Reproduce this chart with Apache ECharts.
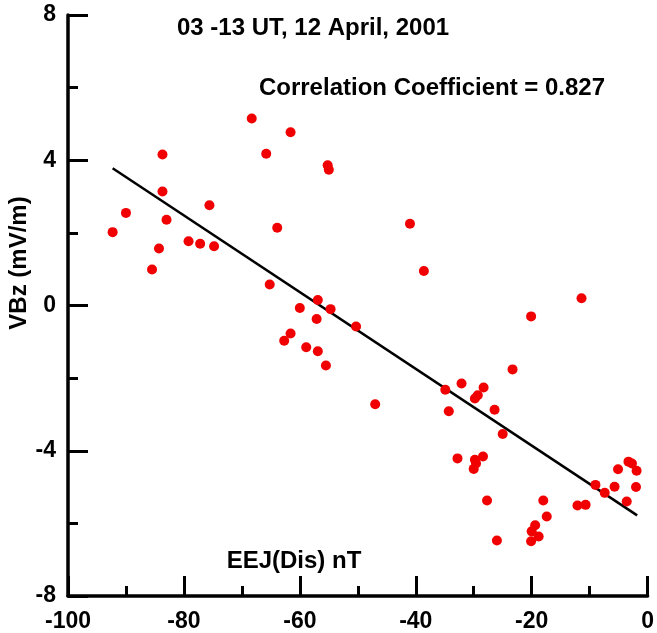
<!DOCTYPE html>
<html>
<head>
<meta charset="utf-8">
<script src="https://cdn.jsdelivr.net/npm/echarts@6/dist/echarts.min.js"></script>
<style>
html,body{margin:0;padding:0;background:#fff;}
#chart{width:657px;height:633px;}
</style>
</head>
<body>
<div id="chart"></div>
<script>
// EEJ(Dis) in nT
const eejValues = [-92.3,-90.0,-85.5,-84.3,-83.7,-83.7,-83.0,-79.2,-77.2,-75.6,-74.8,-68.3,-65.8,-65.2,-63.9,-62.7,-61.6,-61.6,-60.0,-58.9,-57.1,-56.9,-56.9,-55.5,-55.2,-55.0,-54.7,-50.3,-47.0,-41.0,-38.6,-34.9,-34.3,-32.8,-32.1,-30.0,-29.8,-29.8,-29.6,-29.3,-28.4,-28.3,-27.7,-26.4,-26.0,-25.0,-23.3,-20.1,-20.1,-20.0,-19.4,-18.8,-18.0,-17.4,-12.1,-11.4,-10.7,-9.0,-7.4,-5.7,-5.1,-3.6,-3.3,-2.7,-2.0,-1.9];
// VBz in mV/m
const vbzValues = [2.02,2.55,0.99,1.57,4.16,3.14,2.36,1.77,1.70,2.76,1.63,5.15,4.18,0.58,2.14,-0.97,4.77,-0.77,-0.07,-1.15,-0.37,0.15,-1.26,-1.65,3.86,3.74,-0.10,-0.58,-2.72,2.25,0.95,-2.32,-2.91,-4.21,-2.15,-4.50,-2.56,-4.25,-4.35,-2.47,-4.16,-2.26,-5.37,-2.87,-6.47,-3.54,-1.76,-0.30,-6.49,-6.22,-6.05,-6.36,-5.37,-5.81,-5.51,0.20,-5.49,-4.94,-5.16,-4.99,-4.51,-5.40,-4.30,-4.35,-5.00,-4.55];
// regression line end points
const fitX = [-92.3, -1.8];
const fitY = [3.78, -5.78];

const titleText = '03 -13 UT, 12 April, 2001';
const corrText = 'Correlation Coefficient = 0.827';
const xName = 'EEJ(Dis) nT';
const yName = 'VBz (mV/m)';

const FONT = '"Liberation Sans", Arial, Helvetica, sans-serif';
const chart = echarts.init(document.getElementById('chart'), null, {renderer: 'canvas'});

const axisCommon = {
  axisLine: {show: true, onZero: false, lineStyle: {color: '#000', width: 3.5}},
  axisTick: {show: true, inside: true, length: 20, lineStyle: {color: '#000', width: 3}},
  minorTick: {show: true, splitNumber: 2, length: 10, lineStyle: {color: '#000', width: 3}},
  splitLine: {show: false},
  axisLabel: {color: '#000', fontFamily: FONT, fontWeight: 'bold', fontSize: 23, margin: 12}
};

chart.setOption({
  backgroundColor: '#fff',
  animation: false,
  grid: {left: 68, right: 6, top: 15, bottom: 34, containLabel: false},
  xAxis: Object.assign({type: 'value', min: -100, max: 0, interval: 20}, axisCommon,
    {axisLabel: Object.assign({}, axisCommon.axisLabel, {margin: 14})}),
  yAxis: Object.assign({type: 'value', min: -8, max: 8, interval: 4}, axisCommon),
  series: [
    {
      type: 'scatter',
      data: eejValues.map((x, i) => [x, vbzValues[i]]),
      symbol: 'circle',
      symbolSize: 10,
      itemStyle: {color: '#f00000', opacity: 1},
      z: 3
    },
    {
      type: 'line',
      data: fitX.map((x, i) => [x, fitY[i]]),
      showSymbol: false,
      lineStyle: {color: '#000', width: 2.5},
      z: 2
    }
  ],
  graphic: [
    {type: 'text', x: 313, y: 28, style: {text: titleText, font: 'bold 24px ' + FONT, fill: '#000', textAlign: 'center', textVerticalAlign: 'middle'}},
    {type: 'text', x: 432, y: 88, style: {text: corrText, font: 'bold 24px ' + FONT, fill: '#000', textAlign: 'center', textVerticalAlign: 'middle'}},
    {type: 'text', x: 294, y: 561, style: {text: xName, font: 'bold 24px ' + FONT, fill: '#000', textAlign: 'center', textVerticalAlign: 'middle'}},
    {type: 'text', x: 19, y: 263, rotation: Math.PI / 2, style: {text: yName, font: 'bold 24px ' + FONT, fill: '#000', textAlign: 'center', textVerticalAlign: 'middle'}}
  ]
});
</script>
</body>
</html>
